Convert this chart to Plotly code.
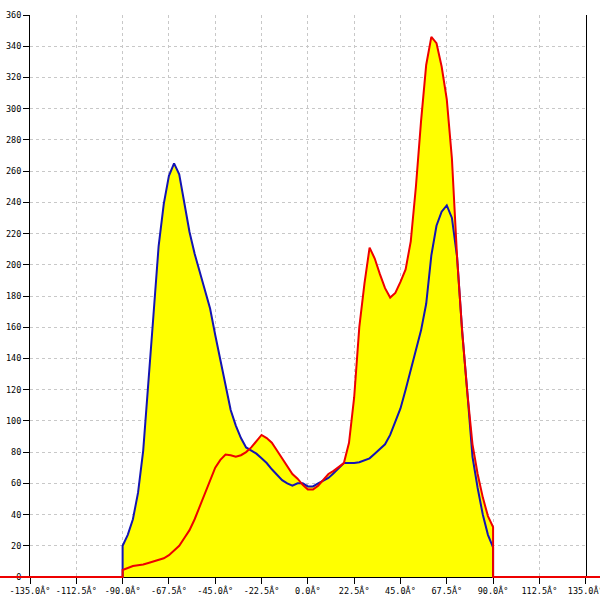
import plotly.graph_objects as go

# ---- data ----
ANGLES = [-180, -90, -90, -87.5, -85, -82.5, -80, -77.5, -75, -72.5, -70, -67.5, -65, -62.5, -60,
          -57.5, -55, -52.5, -50, -47.5, -45, -42.5, -40, -37.5, -35, -32.5, -30, -27.5, -25,
          -22.5, -20, -17.5, -15, -12.5, -10, -7.5, -5, -2.5, 0, 2.5, 5, 7.5, 10, 12.5, 15,
          17.5, 20, 22.5, 25, 27.5, 30, 32.5, 35, 37.5, 40, 42.5, 45, 47.5, 50, 52.5, 55,
          57.5, 60, 62.5, 65, 67.5, 70, 72.5, 75, 77.5, 80, 82.5, 85, 87.5, 90, 90, 180]

BLUE = [0, 0, 20, 27, 37, 54, 81, 122, 168, 212, 239, 257, 265, 258, 240,
        221, 207, 195, 184, 172, 155, 139, 122, 107, 97, 89, 83, 81, 79,
        76, 73, 69, 65.5, 62, 60, 58.5, 60, 60, 58, 58, 60, 62, 63.5, 66.5, 70,
        73, 73, 73, 73.5, 74.5, 76, 79, 82, 85, 91, 99, 108, 120, 133, 146, 158,
        175, 206, 225, 234, 238, 230, 205, 157, 118, 77, 57, 40, 27, 19, 0, 0]

RED = [0, 0, 4.5, 6, 7, 7.5, 8, 9, 10, 11, 12, 14, 17, 20, 25,
       30, 37, 45, 54, 62, 70, 75, 78.5, 78, 77, 78, 80, 83, 87,
       91, 89, 86, 81, 76, 71, 66, 63, 59, 56, 56, 58.5, 62, 66, 68, 70.5,
       73, 86, 115, 160, 188, 211, 204, 194, 185, 179, 182, 189, 197, 215, 250, 292,
       328, 346, 342, 327, 306, 268, 205, 157, 118, 85, 66, 51, 39, 32, 0, 0]

X_TICKS = [-135, -112.5, -90, -67.5, -45, -22.5, 0, 22.5, 45, 67.5, 90, 112.5, 135]
X_LABELS = ["-135.0Â°", "-112.5Â°", "-90.0Â°", "-67.5Â°", "-45.0Â°", "-22.5Â°", "0.0Â°",
            "22.5Â°", "45.0Â°", "67.5Â°", "90.0Â°", "112.5Â°", "135.0Â°"]
Y_TICKS = [0, 20, 40, 60, 80, 100, 120, 140, 160, 180, 200, 220, 240, 260, 280, 300, 320, 340, 360]

# ---- layout geometry (pixels) ----
W, H = 600, 600
PL, PR, PT, PB = 30.0, 585.7, 15.0, 577.0   # plot area edges
XMIN, XMAX, YMIN, YMAX = -135, 135, 0, 360
pxdeg = (PR - PL) / (XMAX - XMIN)
pxval = (PB - PT) / (YMAX - YMIN)
x2range = [XMIN - PL / pxdeg, XMAX + (W - PR) / pxdeg]
y2range = [YMIN - (H - PB) / pxval, YMAX]

YELLOW = "#ffff00"
BLUE_C = "#1414b4"
RED_C = "#ee0000"
FONT = dict(family="DejaVu Sans Mono", size=8.5, color="#000000")

fig = go.Figure()
# fills (under lines)
fig.add_trace(go.Scatter(x=ANGLES, y=BLUE, mode="lines", fill="tozeroy", fillcolor=YELLOW,
                         line=dict(width=0, color=YELLOW), xaxis="x", yaxis="y", hoverinfo="skip"))
fig.add_trace(go.Scatter(x=ANGLES, y=RED, mode="lines", fill="tozeroy", fillcolor=YELLOW,
                         line=dict(width=0, color=YELLOW), xaxis="x", yaxis="y", hoverinfo="skip"))
# lines
fig.add_trace(go.Scatter(x=ANGLES, y=BLUE, mode="lines", line=dict(color=BLUE_C, width=2),
                         xaxis="x2", yaxis="y2"))
fig.add_trace(go.Scatter(x=ANGLES, y=RED, mode="lines", line=dict(color=RED_C, width=2),
                         xaxis="x2", yaxis="y2"))

grid = dict(showgrid=True, gridcolor="#c8c8c8", gridwidth=1, griddash="3px,3px")

fig.update_layout(
    width=W, height=H, autosize=False,
    margin=dict(l=0, r=0, t=0, b=0, pad=0),
    paper_bgcolor="white", plot_bgcolor="rgba(0,0,0,0)",
    showlegend=False,
    font=FONT,
    xaxis=dict(domain=[PL / W, PR / W], range=[XMIN, XMAX], anchor="y",
               tickmode="array", tickvals=X_TICKS, ticktext=X_LABELS,
               ticks="outside", ticklen=6, tickwidth=1, tickcolor="black",
               showline=True, linecolor="black", linewidth=1, mirror=False,
               zeroline=False, tickfont=FONT, automargin=False,
               ticklabeloverflow="allow", **grid),
    yaxis=dict(domain=[(H - PB) / H, (H - PT) / H], range=[YMIN, YMAX], anchor="x",
               tickmode="array", tickvals=Y_TICKS,
               ticks="outside", ticklen=6, tickwidth=1, tickcolor="black",
               showline=True, linecolor="black", linewidth=1, mirror=True,
               zeroline=False, tickfont=FONT, automargin=False,
               ticklabeloverflow="allow", **grid),
    xaxis2=dict(domain=[0, 1], range=x2range, anchor="y2", visible=False),
    yaxis2=dict(domain=[0, (H - PT) / H], range=y2range, anchor="x2", visible=False),
)

fig.write_html("out.html", config={"displayModeBar": False},
               post_script="document.body.style.margin='0px';")
